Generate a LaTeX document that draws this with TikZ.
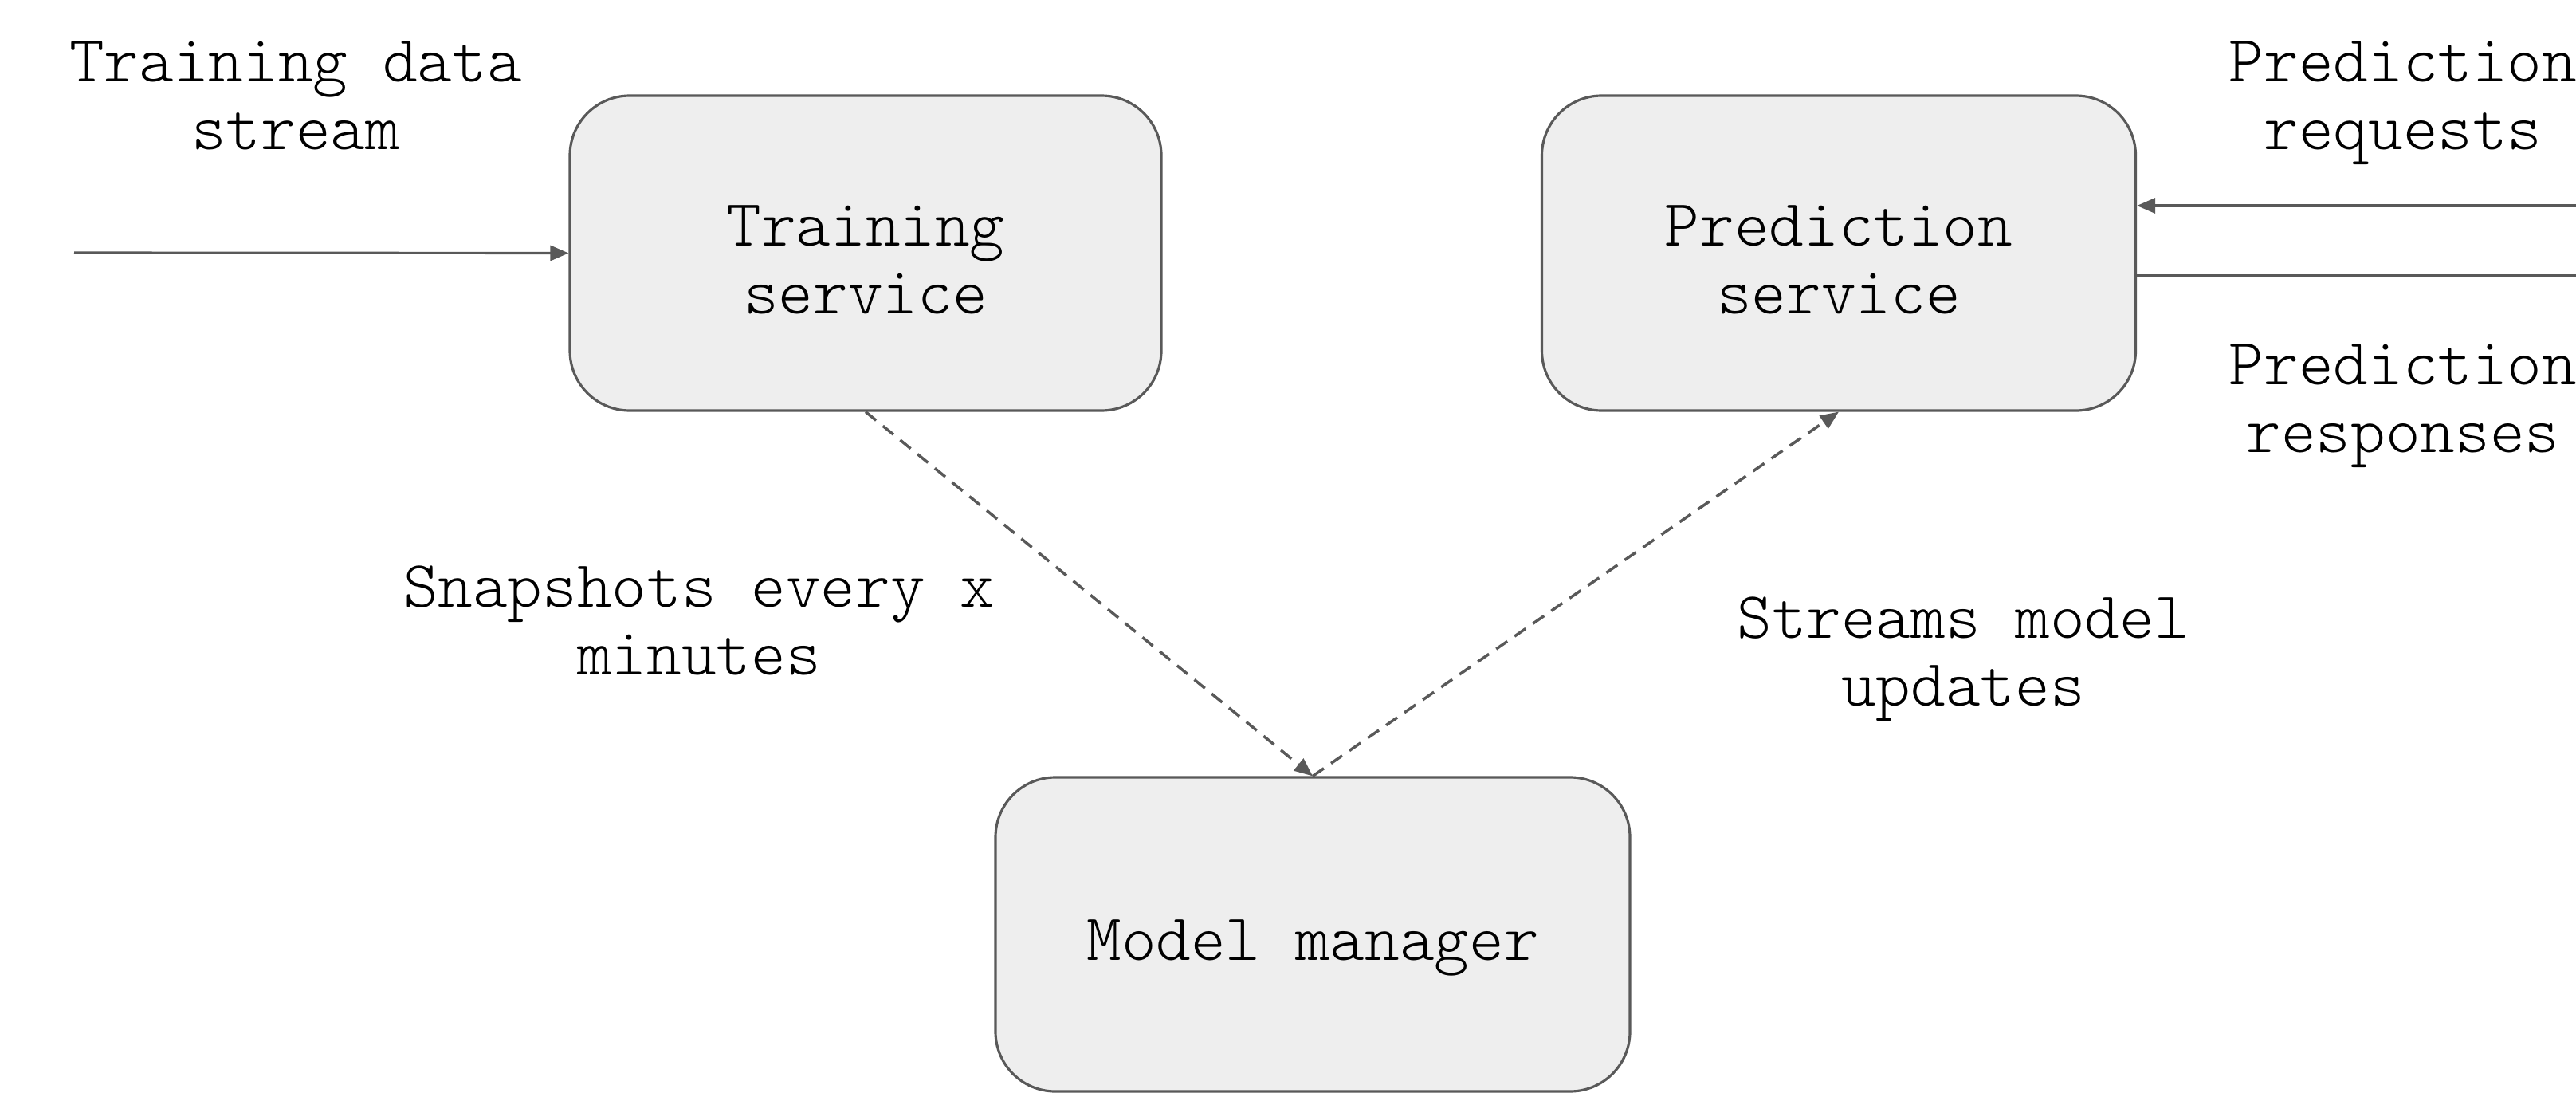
\documentclass[tikz,border=0pt]{standalone}
\usepackage{fontspec}
\setmonofont{Latin Modern Mono Light}
\usetikzlibrary{arrows.meta}
\definecolor{edgegray}{RGB}{89,89,89}
\definecolor{boxfill}{RGB}{238,238,238}

\begin{document}
\begin{tikzpicture}[
	every node/.style={font=\ttfamily\fontsize{23.65}{24.2}\selectfont, align=center, inner sep=0pt},
	service/.style={draw=edgegray, fill=boxfill, line width=0.9pt, rounded corners=0.75cm, minimum width=7.42cm, minimum height=3.95cm},
	flow/.style={draw=edgegray, line width=0.9pt, -{Triangle[length=0.23cm,width=0.19cm]}},
	update/.style={flow, line width=1pt, dash pattern=on 0.17cm off 0.11cm}
	]
	%%%%% START %%%%%
	
	\useasboundingbox (0,0) rectangle (32.32,-13.71);
	
	\node[service, text height=1.52cm] (train) at (10.86,-3.175) {Training\\service};
	\node[service, text height=1.52cm, minimum width=7.45cm] (pred) at (23.07,-3.175) {Prediction\\service};
	\node[service, text height=0.85cm, minimum width=7.96cm, minimum height=3.94cm] (mgr) at (16.47,-11.72) {Model manager};
	
	\coordinate (instream) at (0.93,-3.17);
	\coordinate (reqin) at (32.32,-2.58);
	\coordinate (respout) at (32.32,-3.46);
	
	\draw[flow] (instream) -- (train.west);
	\draw[flow] (reqin) -- (reqin -| pred.east);
	\draw[draw=edgegray, line width=0.9pt] (respout -| pred.east) -- (respout);
	
	\draw[update] (train.south) -- (mgr.north);
	\draw[update] (mgr.north) -- (pred.south);
	
	\node (streamlabel) at (3.71,-1.2) {Training data\\stream};
	\node (reqlabel) at (30.15,-1.29) {Prediction\\requests};
	\node (resplabel) at (30.15,-5.09) {Prediction\\responses};
	\node (snaplabel) at (8.77,-7.78) {Snapshots every x\\minutes};
	\node (updlabel) at (24.63,-8.27) {Streams model\\updates};
	
	%%%%% END %%%%%
\end{tikzpicture}
\end{document}
